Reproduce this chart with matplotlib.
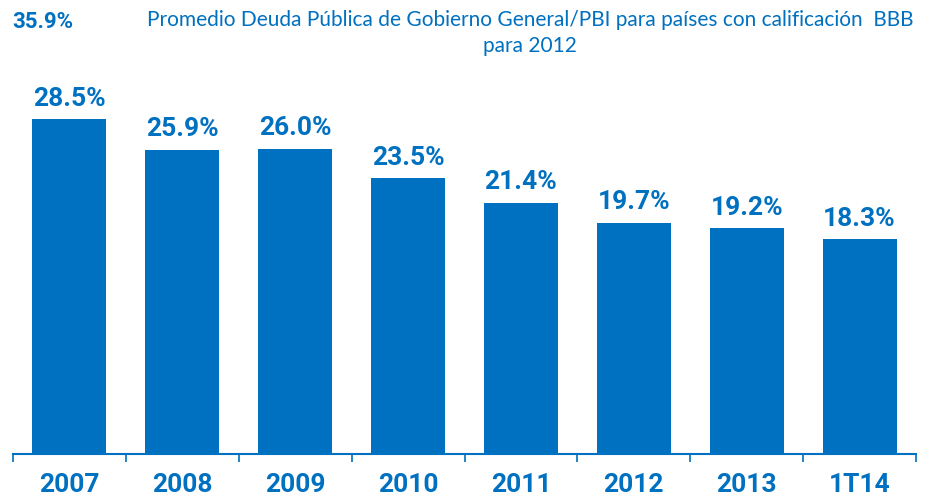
import matplotlib
matplotlib.use("Agg")
import matplotlib.pyplot as plt

## data
categories = ["2007", "2008", "2009", "2010", "2011", "2012", "2013", "1T14"]
values = [28.5, 25.9, 26.0, 23.5, 21.4, 19.7, 19.2, 18.3]
benchmark = "35.9%"
title = "Promedio Deuda Pública de Gobierno General/PBI para países con calificación  BBB\npara 2012"

blue = "#0070C0"

fig = plt.figure(figsize=(9.36, 4.99), dpi=100)
ax = fig.add_axes([13/936, 45/499, 903/936, 374/499])

x = range(len(categories))
bars = ax.bar(x, values, width=0.655, color=blue)
for b, v in zip(bars, values):
    ax.annotate(f"{v:.1f}%", (b.get_x() + b.get_width()/2, v), xytext=(0, 6),
                textcoords="offset points", ha="center", va="bottom",
                fontsize=19, fontweight="bold", color=blue, family="Roboto")

ax.set_xlim(-0.5, len(categories) - 0.5)
ax.set_ylim(0, 374/11.75)
for s in ["top", "right", "left"]:
    ax.spines[s].set_visible(False)
ax.spines["bottom"].set_color(blue)
ax.spines["bottom"].set_linewidth(1.5)
ax.set_yticks([])

# ticks between categories
ax.set_xticks([i - 0.5 for i in range(len(categories) + 1)], minor=False)
ax.set_xticklabels([])
ax.tick_params(axis="x", which="major", direction="out", length=6, width=1.2, color=blue)
ax.set_xticks(list(x), minor=True)
ax.set_xticklabels(categories, minor=True, fontsize=19, fontweight="bold",
                   color=blue, family="Roboto")
ax.tick_params(axis="x", which="minor", length=0, pad=14)

fig.text(12/936, 1 - 22/499, benchmark, fontsize=16, fontweight="bold", color=blue,
         family="Roboto", va="center", ha="left")
fig.text(530/936, 1 - 10/499, title, fontsize=15, color=blue, ha="center", va="top",
         family="Lato", linespacing=1.35)

fig.savefig("out.png", dpi=100)
